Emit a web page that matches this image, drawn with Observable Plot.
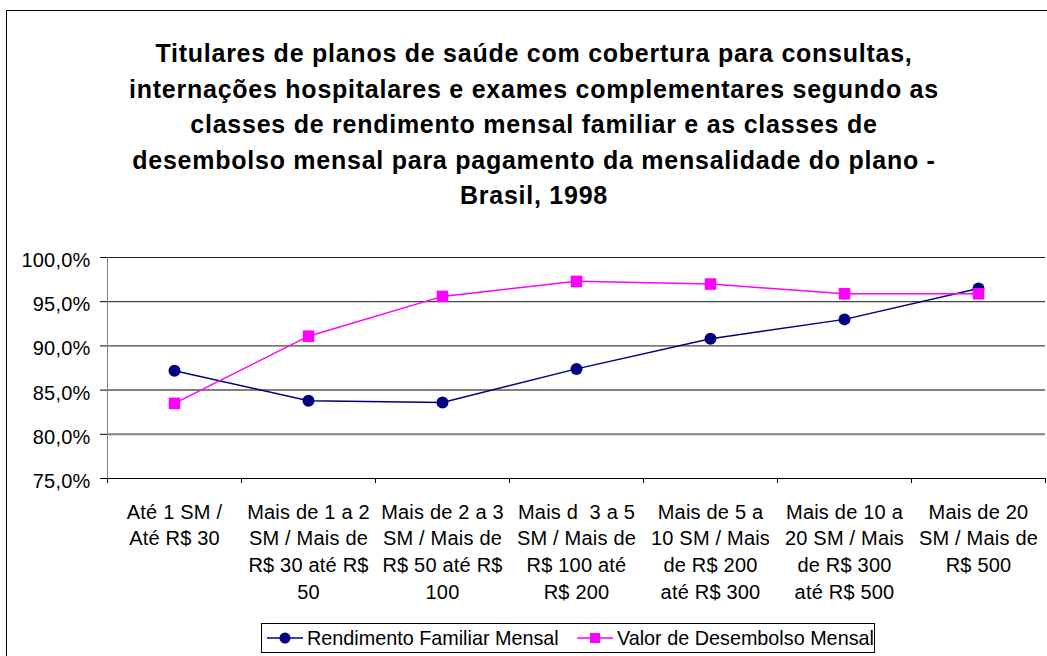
<!DOCTYPE html>
<html>
<head>
<meta charset="utf-8">
<script src="https://cdn.jsdelivr.net/npm/d3@7"></script>
<script src="https://cdn.jsdelivr.net/npm/@observablehq/plot@0.6"></script>
<style>
  html, body { margin: 0; padding: 0; background: #fff; overflow: hidden; }
  body { width: 1047px; height: 656px; position: relative; font-family: "Liberation Sans", Arial, sans-serif; }
  #frame { position: absolute; left: 6px; top: 10px; width: 1200px; height: 800px; border: 1px solid #000; box-sizing: border-box; }
  #title { position: absolute; left: 0; top: 36px; width: 1068px; text-align: center; font-weight: bold; font-size: 25px; line-height: 35.5px; letter-spacing: 0.75px; color: #000; }
  #chart { position: absolute; left: 0; top: 230px; }
  #legend { position: absolute; left: 261px; top: 623px; width: 614px; height: 30px; border: 1px solid #000; box-sizing: border-box; font-size: 19.8px; }
  #legend .item { position: absolute; top: 0; height: 28px; display: flex; align-items: center; white-space: nowrap; }
  #legend svg { display: block; }
</style>
</head>
<body>
<div id="frame"></div>
<div id="title">Titulares de planos de saúde com cobertura para consultas,<br>internações hospitalares e exames complementares segundo as<br>classes de rendimento mensal familiar e as classes de<br>desembolso mensal para pagamento da mensalidade do plano -<br>Brasil, 1998</div>
<div id="chart"></div>
<div id="legend"></div>
<script>
const categories = [
  "Até 1 SM /\nAté R$ 30",
  "Mais de 1 a 2\nSM / Mais de\nR$ 30 até R$\n50",
  "Mais de 2 a 3\nSM / Mais de\nR$ 50 até R$\n100",
  "Mais d  3 a 5\nSM / Mais de\nR$ 100 até\nR$ 200",
  "Mais de 5 a\n10 SM / Mais\nde R$ 200\naté R$ 300",
  "Mais de 10 a\n20 SM / Mais\nde R$ 300\naté R$ 500",
  "Mais de 20\nSM / Mais de\nR$ 500"
];
const rendimento = [87.2, 83.8, 83.6, 87.4, 90.8, 93.0, 96.5];
const desembolso = [83.5, 91.1, 95.6, 97.3, 97.0, 95.9, 95.9];
const seriesNames = ["Rendimento Familiar Mensal", "Valor de Desembolso Mensal"];
const yTicks = [75, 80, 85, 90, 95, 100];
const gridValues = [80, 85, 90, 95, 100];

const navy = "#000080";
const magenta = "#FF00FF";

const rowsR = categories.map((c, i) => ({i: i + 0.5, v: rendimento[i]}));
const rowsD = categories.map((c, i) => ({i: i + 0.5, v: desembolso[i]}));
const catRows = categories.map((c, i) => ({i: i + 0.5, label: c}));
const boundaries = d3.range(categories.length + 1);
const fmt = d => d.toFixed(1).replace(".", ",") + "%";

const plot = Plot.plot({
  width: 1047,
  height: 390,
  marginLeft: 107,
  marginRight: 2,
  marginTop: 27,
  marginBottom: 142,
  style: {fontFamily: '"Liberation Sans", Arial, sans-serif', fontSize: "20px", color: "#000", letterSpacing: "0.2px", background: "transparent"},
  x: {domain: [0, categories.length], ticks: boundaries, tickFormat: () => "", tickSize: 5, label: null},
  y: {domain: [75, 100], ticks: yTicks, tickFormat: fmt, tickSize: 7, tickPadding: 10, label: null},
  marks: [
    Plot.ruleY(gridValues, {stroke: d => d < 90 ? "#808080" : "#1a1a1a", strokeWidth: d => d < 90 ? 2 : 1}),
    Plot.ruleX([0], {stroke: "#808080", strokeWidth: 1}),
    Plot.ruleY([75], {stroke: "#000", strokeWidth: 1}),
    Plot.text(catRows, {x: "i", text: "label", frameAnchor: "bottom", lineAnchor: "top", dy: 21, lineHeight: 1.34, fill: "#000", fontSize: 20, style: "white-space: pre"}),
    Plot.line(rowsR, {x: "i", y: "v", stroke: navy, strokeWidth: 1.5}),
    Plot.dot(rowsR, {x: "i", y: "v", r: 6, fill: navy, stroke: "none", symbol: "circle"}),
    Plot.line(rowsD, {x: "i", y: "v", stroke: magenta, strokeWidth: 1.5}),
    Plot.dot(rowsD, {x: "i", y: "v", r: 6.5, fill: magenta, stroke: "none", symbol: "square"})
  ]
});
plot.querySelectorAll("text, tspan").forEach(t => t.setAttribute("xml:space", "preserve"));
plot.querySelectorAll("g[aria-label='y-axis tick label'] text, g[aria-label='y-axis'] text").forEach(t => t.setAttribute("dy", "3"));
document.getElementById("chart").appendChild(plot);

// legend
const legend = document.getElementById("legend");
function swatch(color, shape) {
  const ns = "http://www.w3.org/2000/svg";
  const s = document.createElementNS(ns, "svg");
  s.setAttribute("width", 36); s.setAttribute("height", 16);
  const l = document.createElementNS(ns, "line");
  l.setAttribute("x1", 0); l.setAttribute("x2", 36); l.setAttribute("y1", 8); l.setAttribute("y2", 8);
  l.setAttribute("stroke", color); l.setAttribute("stroke-width", 1.5);
  s.appendChild(l);
  if (shape === "circle") {
    const c = document.createElementNS(ns, "circle");
    c.setAttribute("cx", 18); c.setAttribute("cy", 8); c.setAttribute("r", 5.5); c.setAttribute("fill", color);
    s.appendChild(c);
  } else {
    const r = document.createElementNS(ns, "rect");
    r.setAttribute("x", 13); r.setAttribute("y", 3); r.setAttribute("width", 10); r.setAttribute("height", 10); r.setAttribute("fill", color);
    s.appendChild(r);
  }
  return s;
}
const items = [[navy, "circle", seriesNames[0], 5], [magenta, "square", seriesNames[1], 315]];
items.forEach(([col, shape, name, left]) => {
  const it = document.createElement("div");
  it.className = "item";
  it.style.left = left + "px";
  it.appendChild(swatch(col, shape));
  const sp = document.createElement("span");
  sp.textContent = name;
  sp.style.marginLeft = "4px";
  it.appendChild(sp);
  legend.appendChild(it);
});
</script>
</body>
</html>
